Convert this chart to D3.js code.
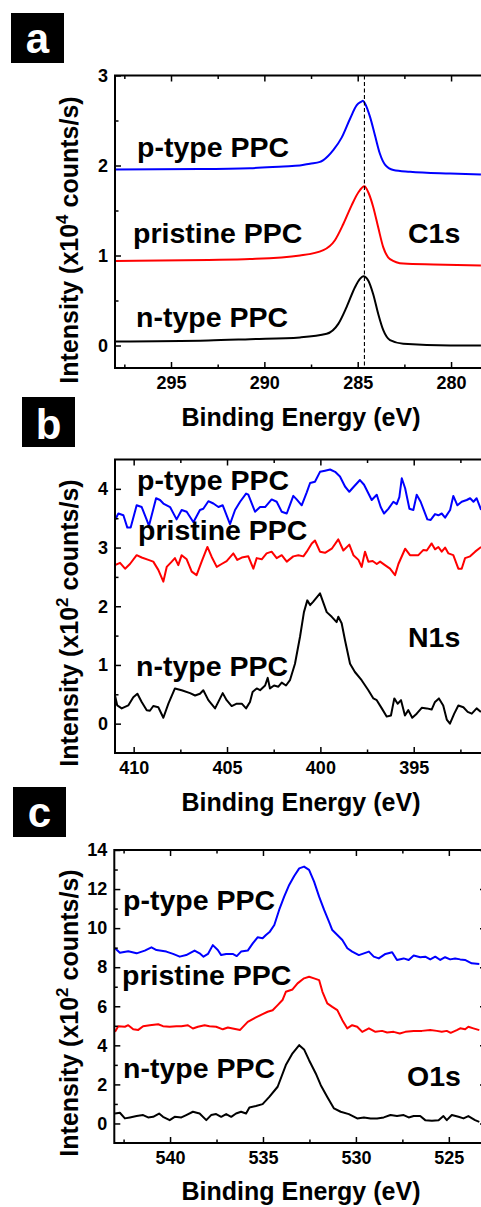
<!DOCTYPE html>
<html><head><meta charset="utf-8">
<script src="https://cdn.jsdelivr.net/npm/d3@7"></script>
<style>
body{margin:0;background:#fff}
text{font-family:Arial,"Liberation Sans",Helvetica,sans-serif;font-weight:bold}
</style>
</head><body>
<svg id="chart" width="481" height="1207"></svg>
<script>
// ---------- DATA (binding energy eV, intensity) ----------
const seriesNames = ["p-type PPC", "pristine PPC", "n-type PPC"];
const seriesColors = ["#0000ff", "#ff0000", "#000000"];

// Panel a: C1s (x10^4 counts/s)
const c1sP = [[298,1.956],[293.45,1.96],[290.77,1.97],[288.98,1.99],[288.1,2.0],[287.56,2.02],[287.02,2.04],[286.84,2.06],[286.31,2.17],[285.86,2.31],[285.41,2.52],[285.05,2.67],[284.8,2.71],[284.72,2.72],[284.61,2.69],[284.34,2.54],[284.07,2.33],[283.81,2.13],[283.54,2.01],[283.09,1.95],[282.2,1.93],[280.05,1.91],[278.4,1.90]];
const c1sPr = [[298,0.94],[293,0.95],[290.77,0.96],[288.09,1.0],[286.84,1.06],[286.22,1.17],[285.77,1.35],[285.32,1.56],[284.97,1.70],[284.64,1.77],[284.43,1.70],[284.17,1.54],[283.9,1.31],[283.63,1.09],[283.27,0.96],[282.56,0.91],[280.95,0.90],[278.4,0.89]];
const c1sN = [[298,0.044],[293,0.055],[290.77,0.07],[288.09,0.09],[286.66,0.13],[286.04,0.24],[285.59,0.43],[285.14,0.65],[284.88,0.74],[284.70,0.77],[284.43,0.72],[284.17,0.57],[283.9,0.35],[283.63,0.17],[283.27,0.06],[282.56,0.02],[280.05,0.0],[278.4,0.0]];
const c1sRef = 284.64;

// Panel b: N1s (x10^2 counts/s)
const n1sP = [[411.0,3.47],[410.82,3.58],[410.55,3.55],[410.34,3.34],[410.16,3.34],[409.84,3.72],[409.57,3.69],[409.30,3.47],[409.18,3.37],[408.80,3.84],[408.59,3.81],[408.41,3.75],[408.05,3.69],[407.70,3.48],[407.43,3.64],[407.16,3.61],[406.80,3.43],[406.45,3.64],[406.27,3.66],[406.0,3.79],[405.73,3.75],[405.46,3.69],[405.23,3.72],[404.84,3.40],[404.57,3.64],[404.30,3.78],[403.98,3.92],[403.86,3.90],[403.5,3.61],[403.23,3.69],[402.96,3.69],[402.61,3.82],[402.34,3.78],[402.07,3.61],[401.80,3.58],[401.45,3.88],[401.27,3.82],[401.0,3.72],[400.73,3.94],[400.55,4.10],[400.29,4.12],[400.02,4.29],[399.75,4.31],[399.48,4.33],[399.21,4.29],[398.95,4.21],[398.68,4.04],[398.45,3.95],[398.20,4.04],[397.88,4.15],[397.66,4.07],[397.25,3.81],[396.98,3.90],[396.77,3.69],[396.59,3.58],[396.36,3.66],[396.09,3.78],[395.91,3.74],[395.77,3.86],[395.64,4.18],[395.46,4.01],[395.23,3.66],[395.02,3.64],[394.84,3.90],[394.63,3.78],[394.27,3.48],[394.09,3.47],[393.86,3.57],[393.68,3.55],[393.50,3.58],[393.32,3.51],[393.05,3.64],[392.88,3.88],[392.66,3.72],[392.43,3.78],[392.16,3.81],[391.98,3.84],[391.80,3.78],[391.63,3.84],[391.39,3.64]];
const n1sPr = [[411.0,2.70],[410.73,2.74],[410.46,2.64],[410.20,2.72],[409.84,2.87],[409.57,2.83],[409.21,2.79],[408.95,2.76],[408.68,2.62],[408.41,2.42],[408.23,2.67],[407.96,2.76],[407.79,2.82],[407.61,2.70],[407.43,2.87],[407.16,2.80],[406.89,2.59],[406.63,2.53],[406.36,2.76],[406.05,3.01],[405.82,2.84],[405.55,2.67],[405.29,2.72],[405.02,2.77],[404.66,2.90],[404.45,2.79],[404.21,2.83],[403.86,2.85],[403.59,2.64],[403.41,2.82],[403.14,2.80],[402.88,2.90],[402.61,2.93],[402.34,2.82],[402.07,2.87],[401.80,2.76],[401.45,2.85],[401.18,2.87],[400.91,2.85],[400.73,2.93],[400.46,3.07],[400.29,3.12],[400.02,2.93],[399.75,2.91],[399.39,2.98],[399.04,3.14],[398.77,2.95],[398.45,3.05],[398.23,2.87],[397.96,2.79],[397.79,2.67],[397.61,2.93],[397.43,2.76],[397.20,2.77],[396.98,2.72],[396.80,2.76],[396.54,2.70],[396.27,2.64],[396.0,2.53],[395.82,2.72],[395.46,2.98],[395.20,2.87],[394.75,2.87],[394.48,2.96],[394.30,2.95],[394.04,3.07],[393.86,2.97],[393.68,3.01],[393.50,2.93],[393.32,3.0],[393.14,2.90],[392.88,2.87],[392.61,2.64],[392.43,2.64],[392.25,2.82],[391.98,2.85],[391.71,2.93],[391.39,3.01]];
const n1sN = [[411.0,0.48],[410.88,0.31],[410.64,0.26],[410.29,0.31],[410.02,0.45],[409.80,0.51],[409.57,0.37],[409.30,0.23],[409.13,0.22],[408.95,0.30],[408.68,0.28],[408.41,0.10],[408.14,0.34],[407.79,0.60],[407.43,0.57],[406.98,0.52],[406.71,0.48],[406.45,0.51],[406.27,0.57],[406.0,0.40],[405.64,0.26],[405.23,0.52],[405.02,0.40],[404.75,0.30],[404.48,0.34],[404.21,0.34],[403.98,0.26],[403.77,0.37],[403.63,0.54],[403.41,0.60],[403.23,0.57],[402.96,0.65],[402.82,0.78],[402.70,0.60],[402.48,0.65],[402.25,0.63],[402.07,0.70],[401.84,0.65],[401.63,0.74],[401.36,1.02],[401.09,1.48],[400.88,1.90],[400.70,2.10],[400.55,2.02],[400.38,2.08],[400.02,2.22],[399.66,1.90],[399.39,1.82],[399.13,1.73],[399.04,1.82],[398.86,1.71],[398.68,1.42],[398.41,1.02],[398.15,0.88],[397.79,0.74],[397.43,0.57],[397.16,0.43],[396.98,0.40],[396.71,0.26],[396.45,0.12],[396.22,0.14],[396.04,0.43],[395.86,0.34],[395.68,0.40],[395.47,0.14],[395.29,0.23],[395.08,0.10],[394.84,0.17],[394.57,0.27],[394.30,0.26],[394.04,0.24],[393.86,0.37],[393.65,0.43],[393.42,0.31],[393.23,0.07],[393.06,0.0],[392.83,0.17],[392.61,0.31],[392.34,0.28],[392.11,0.20],[391.89,0.17],[391.63,0.26],[391.40,0.20]];

// Panel c: O1s (x10^2 counts/s)
const o1sP = [[542.96,8.97],[542.70,8.74],[542.25,8.82],[541.80,8.71],[541.36,8.85],[541.0,9.02],[540.73,8.88],[540.20,8.80],[539.84,8.68],[539.48,8.54],[539.13,8.62],[538.68,8.85],[538.41,8.71],[538.20,8.54],[537.96,8.68],[537.70,9.13],[537.43,8.88],[537.25,8.62],[536.98,8.68],[536.63,8.68],[536.41,8.57],[536.18,8.80],[535.82,8.85],[535.55,9.22],[535.29,9.53],[535.02,9.48],[534.84,9.65],[534.63,9.82],[534.39,10.16],[534.13,10.93],[533.86,11.61],[533.59,12.21],[533.32,12.67],[533.05,13.06],[532.79,13.15],[532.52,12.98],[532.25,12.38],[531.98,11.61],[531.71,10.93],[531.45,10.33],[531.27,9.90],[531.0,9.65],[530.73,9.39],[530.46,8.97],[530.20,8.80],[529.84,8.62],[529.57,8.71],[529.30,8.80],[529.04,8.54],[528.77,8.45],[528.41,8.68],[528.05,8.77],[527.79,8.37],[527.43,8.45],[527.16,8.37],[526.89,8.60],[526.54,8.51],[526.27,8.54],[526.0,8.40],[525.73,8.54],[525.46,8.37],[525.20,8.51],[524.93,8.40],[524.66,8.45],[524.39,8.40],[524.13,8.37],[523.77,8.20],[523.36,8.17]];
const o1sPr = [[542.96,4.69],[542.79,4.98],[542.43,4.95],[542.25,5.03],[541.98,4.82],[541.71,4.79],[541.45,4.98],[541.09,5.03],[540.64,5.08],[540.38,4.98],[540.02,4.95],[539.66,4.98],[539.39,4.98],[539.04,5.03],[538.77,4.86],[538.50,4.95],[538.14,5.03],[537.88,4.98],[537.52,4.95],[537.16,4.82],[536.89,4.91],[536.63,4.86],[536.23,4.79],[535.82,5.20],[535.38,5.43],[535.02,5.60],[534.75,5.72],[534.48,5.80],[534.21,6.06],[533.95,6.32],[533.77,6.74],[533.41,6.86],[533.14,7.17],[532.79,7.43],[532.52,7.51],[532.25,7.43],[531.98,7.34],[531.80,6.74],[531.54,6.15],[531.27,5.97],[531.0,5.80],[530.73,5.29],[530.47,4.87],[530.2,5.03],[529.93,4.95],[529.66,4.69],[529.3,4.87],[528.95,4.69],[528.59,4.74],[528.32,4.66],[527.97,4.69],[527.64,4.61],[527.34,4.69],[526.89,4.73],[526.45,4.74],[526.0,4.78],[525.65,4.74],[525.38,4.69],[525.11,4.74],[524.9,4.64],[524.57,4.78],[524.39,4.87],[524.12,4.82],[523.95,4.95],[523.68,4.87],[523.36,4.78]];
const o1sN = [[542.96,0.51],[542.70,0.55],[542.43,0.26],[542.16,0.31],[541.80,0.38],[541.45,0.43],[541.18,0.31],[540.91,0.34],[540.59,0.51],[540.38,0.34],[540.02,0.17],[539.75,0.34],[539.39,0.31],[539.13,0.43],[538.77,0.60],[538.41,0.51],[538.05,0.17],[537.79,0.43],[537.52,0.48],[537.25,0.34],[536.98,0.48],[536.71,0.34],[536.45,0.51],[536.18,0.60],[535.91,0.51],[535.73,0.82],[535.38,0.89],[535.02,0.99],[534.66,1.36],[534.21,1.88],[533.77,2.99],[533.41,3.59],[533.05,4.01],[532.79,3.79],[532.52,3.24],[532.16,2.56],[531.89,1.96],[531.54,1.36],[531.18,0.77],[530.82,0.60],[530.38,0.48],[529.93,0.26],[529.57,0.31],[529.21,0.26],[528.86,0.26],[528.5,0.31],[528.14,0.43],[527.79,0.38],[527.43,0.43],[527.16,0.31],[526.89,0.38],[526.54,0.38],[526.27,0.17],[525.91,0.14],[525.55,0.17],[525.29,0.38],[525.11,0.17],[524.84,0.43],[524.48,0.34],[524.21,0.26],[523.95,0.38],[523.59,0.17],[523.36,0.08]];

// Ticks
const c1sXTicks = [295, 290, 285, 280];
const c1sXMinor = [297.5, 292.5, 287.5, 282.5];
const c1sYTicks = [0, 1, 2, 3];
const c1sYMinor = [0.5, 1.5, 2.5];
const n1sXTicks = [410, 405, 400, 395];
const n1sXMinor = [407.5, 402.5, 397.5, 392.5];
const n1sYTicks = [0, 1, 2, 3, 4];
const n1sYMinor = [0.5, 1.5, 2.5, 3.5];
const o1sXTicks = [540, 535, 530, 525];
const o1sXMinor = [542.5, 537.5, 532.5, 527.5];
const o1sYTicks = [0, 2, 4, 6, 8, 10, 12, 14];
const o1sYMinor = [1, 3, 5, 7, 9, 11, 13];

// ---------- DRAW ----------
const svg = d3.select("#chart");

function drawPanel(cfg) {
  const x = d3.scaleLinear().domain(cfg.xDomain).range([cfg.left, cfg.right]);
  const y = d3.scaleLinear().domain(cfg.yDomain).range([cfg.bottom, cfg.top]);
  const g = svg.append("g");

  const clipId = "clip" + cfg.id;
  svg.append("clipPath").attr("id", clipId).append("rect")
    .attr("x", cfg.left).attr("y", cfg.top)
    .attr("width", cfg.right - cfg.left).attr("height", cfg.bottom - cfg.top);

  const line = d3.line().x(d => x(d[0])).y(d => y(d[1])).curve(cfg.curve);
  const lines = g.append("g").attr("clip-path", `url(#${clipId})`);
  cfg.series.forEach((s, i) => {
    lines.append("path").datum(s).attr("d", line)
      .attr("fill", "none").attr("stroke", seriesColors[i])
      .attr("stroke-width", 2).attr("stroke-linejoin", "round");
  });
  if (cfg.ref !== undefined) {
    lines.append("line").attr("x1", x(cfg.ref)).attr("x2", x(cfg.ref))
      .attr("y1", cfg.top).attr("y2", cfg.bottom)
      .attr("stroke", "#000").attr("stroke-width", 1.1).attr("stroke-dasharray", "4,2.5");
  }

  const styleAxis = (sel) => {
    sel.select(".domain").remove();
    sel.selectAll(".tick line").attr("stroke", "#000").attr("stroke-width", 1.5);
    sel.selectAll("text").attr("font-size", 18).attr("fill", "#000")
      .attr("font-family", "Arial, 'Liberation Sans', sans-serif").attr("font-weight", "bold");
  };

  g.append("g").attr("transform", `translate(0,${cfg.bottom})`)
    .call(d3.axisBottom(x).tickValues(cfg.xTicks).tickSizeInner(-6).tickSizeOuter(0).tickPadding(8).tickFormat(d3.format("d")))
    .call(styleAxis);
  g.append("g").attr("transform", `translate(0,${cfg.bottom})`)
    .call(d3.axisBottom(x).tickValues(cfg.xMinor).tickSizeInner(-3.5).tickSizeOuter(0).tickFormat(""))
    .call(styleAxis);
  g.append("g").attr("transform", `translate(0,${cfg.top})`)
    .call(d3.axisTop(x).tickValues(cfg.xTicks).tickSizeInner(-6).tickSizeOuter(0).tickFormat(""))
    .call(styleAxis);
  g.append("g").attr("transform", `translate(0,${cfg.top})`)
    .call(d3.axisTop(x).tickValues(cfg.xMinor).tickSizeInner(-3.5).tickSizeOuter(0).tickFormat(""))
    .call(styleAxis);
  g.append("g").attr("transform", `translate(${cfg.left},0)`)
    .call(d3.axisLeft(y).tickValues(cfg.yTicks).tickSizeInner(-6).tickSizeOuter(0).tickPadding(7).tickFormat(d3.format("d")))
    .call(styleAxis);
  g.append("g").attr("transform", `translate(${cfg.left},0)`)
    .call(d3.axisLeft(y).tickValues(cfg.yMinor).tickSizeInner(-3.5).tickSizeOuter(0).tickFormat(""))
    .call(styleAxis);
  g.append("g").attr("transform", `translate(${cfg.right},0)`)
    .call(d3.axisRight(y).tickValues(cfg.yTicks).tickSizeInner(-6).tickSizeOuter(0).tickFormat(""))
    .call(styleAxis);
  g.append("g").attr("transform", `translate(${cfg.right},0)`)
    .call(d3.axisRight(y).tickValues(cfg.yMinor).tickSizeInner(-3.5).tickSizeOuter(0).tickFormat(""))
    .call(styleAxis);

  g.append("rect").attr("x", cfg.left).attr("y", cfg.top)
    .attr("width", cfg.right - cfg.left).attr("height", cfg.bottom - cfg.top)
    .attr("fill", "none").attr("stroke", "#000").attr("stroke-width", 2);

  // series labels
  cfg.labels.forEach((l, i) => {
    g.append("text").attr("x", l[0]).attr("y", l[1]).attr("font-size", 28.5)
      .attr("fill", "#000").text(seriesNames[i]);
  });
  g.append("text").attr("x", cfg.coreLabel[0]).attr("y", cfg.coreLabel[1])
    .attr("font-size", 28.5).attr("fill", "#000").text(cfg.core);

  // axis titles
  g.append("text").attr("x", 301).attr("y", cfg.xTitleY).attr("text-anchor", "middle")
    .attr("font-size", 25).attr("fill", "#000").text("Binding Energy (eV)");
  const yt = g.append("text").attr("transform", `translate(78,${cfg.yTitleCY}) rotate(-90)`)
    .attr("text-anchor", "middle").attr("font-size", 25).attr("fill", "#000");
  yt.append("tspan").text("Intensity (x10");
  yt.append("tspan").attr("font-size", 17).attr("dy", -10).text(cfg.exp);
  yt.append("tspan").attr("dy", 10).text(" counts/s)");

  // panel letter
  g.append("rect").attr("x", cfg.box[0]).attr("y", cfg.box[1]).attr("width", 53).attr("height", 50).attr("fill", "#000");
  g.append("text").attr("x", cfg.box[0] + 26.5).attr("y", cfg.box[1] + cfg.letterDy)
    .attr("text-anchor", "middle").attr("font-size", 42).attr("fill", "#fff").text(cfg.letter);
}

drawPanel({
  id: "a", letter: "a", box: [11, 13], letterDy: 40, core: "C1s", exp: "4",
  xDomain: [298, 278], yDomain: [-0.25, 3],
  left: 115, right: 488.4, top: 75.5, bottom: 368,
  xTicks: c1sXTicks, xMinor: c1sXMinor, yTicks: c1sYTicks, yMinor: c1sYMinor,
  series: [c1sP, c1sPr, c1sN], curve: d3.curveMonotoneX, ref: c1sRef,
  labels: [[137, 157], [133, 243], [136, 327]], coreLabel: [408, 243],
  xTitleY: 426, yTitleCY: 240
});
drawPanel({
  id: "b", letter: "b", box: [22, 397], letterDy: 42, core: "N1s", exp: "2",
  xDomain: [411, 391], yDomain: [-0.5, 4.5],
  left: 115, right: 488.4, top: 459.5, bottom: 753,
  xTicks: n1sXTicks, xMinor: n1sXMinor, yTicks: n1sYTicks, yMinor: n1sYMinor,
  series: [n1sP, n1sPr, n1sN], curve: d3.curveLinear,
  labels: [[137, 490], [138, 540], [136, 676]], coreLabel: [408, 647],
  xTitleY: 811, yTitleCY: 623
});
drawPanel({
  id: "c", letter: "c", box: [13, 787], letterDy: 40, core: "O1s", exp: "2",
  xDomain: [543, 523], yDomain: [-1, 14],
  left: 114.3, right: 486, top: 850, bottom: 1143,
  xTicks: o1sXTicks, xMinor: o1sXMinor, yTicks: o1sYTicks, yMinor: o1sYMinor,
  series: [o1sP, o1sPr, o1sN], curve: d3.curveLinear,
  labels: [[123, 910], [122, 985], [123, 1078]], coreLabel: [407, 1086],
  xTitleY: 1200, yTitleCY: 1013
});
</script>
</body></html>
